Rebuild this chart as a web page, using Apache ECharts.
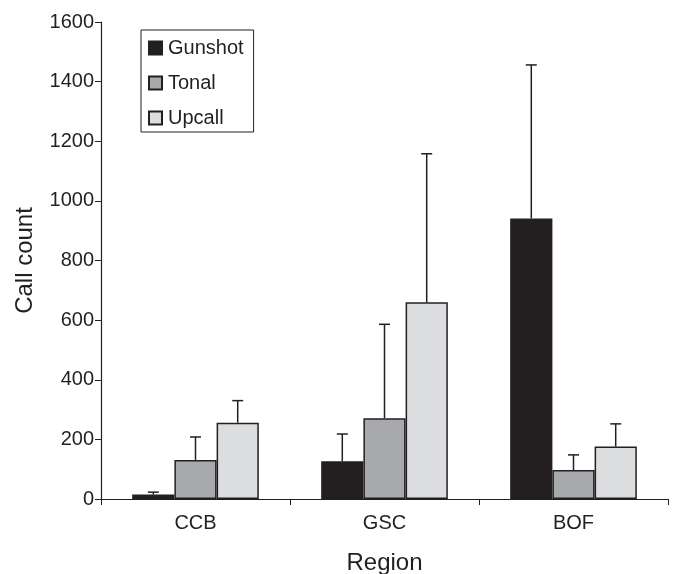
<!DOCTYPE html>
<html><head><meta charset="utf-8">
<script src="https://cdn.jsdelivr.net/npm/echarts@6/dist/echarts.min.js"></script>
<style>html,body{margin:0;padding:0;background:#fff}#c{width:675px;height:574px}</style>
</head><body><div id="c"></div>
<script>
const categories = ['CCB', 'GSC', 'BOF'];
const seriesNames = ['Gunshot', 'Tonal', 'Upcall'];
const gunshot = [15, 127, 941];
const tonal = [131, 271, 97];
const upcall = [256, 660, 176];
const gunshotErr = [23, 218, 1456];
const tonalErr = [208, 586, 148];
const upcallErr = [330, 1158, 252];
const yTicks = [0, 200, 400, 600, 800, 1000, 1200, 1400, 1600];

const colors = ['#231f20', '#a7a9ac', '#dcdddf'];
const values = [gunshot, tonal, upcall];
const errs = [gunshotErr, tonalErr, upcallErr];
const ink = '#231f20';
const font = 'Liberation Sans, Arial, sans-serif';
const gapRatio = 0.33;

const chart = echarts.init(document.getElementById('c'));
const series = [];
seriesNames.forEach((n, i) => {
  series.push({
    name: n, type: 'bar', data: values[i], barGap: 0, barCategoryGap: '33%',
    itemStyle: { color: colors[i], borderColor: ink, borderWidth: 1.5 },
    z: 2
  });
});
seriesNames.forEach((n, i) => {
  series.push({
    type: 'custom', name: n + ' err', z: 1,
    data: categories.map((c, j) => [j, values[i][j], errs[i][j]]),
    renderItem: function (params, api) {
      const x = api.value(0);
      const lo = api.coord([x, api.value(1)]);
      const hi = api.coord([x, api.value(2)]);
      const cw = api.size([1, 0])[0];
      const bw = cw * (1 - gapRatio) / 3;
      const cx = lo[0] + (i - 1) * bw;
      const cap = 5.5;
      return {
        type: 'group',
        children: [
          { type: 'line', shape: { x1: cx, y1: lo[1], x2: cx, y2: hi[1] }, style: { stroke: ink, lineWidth: 1.5 } },
          { type: 'line', shape: { x1: cx - cap, y1: hi[1], x2: cx + cap, y2: hi[1] }, style: { stroke: ink, lineWidth: 1.5 } }
        ]
      };
    }
  });
});

chart.setOption({
  animation: false,
  grid: { left: 101, right: 7, top: 22, bottom: 75, containLabel: false, outerBoundsMode: 'none' },
  legend: {
    data: seriesNames, orient: 'vertical', left: 141, top: 30,
    icon: 'rect', itemWidth: 13, itemHeight: 13, itemGap: 15,
    padding: [8, 10, 4, 7], borderColor: ink, borderWidth: 1,
    textStyle: { fontFamily: font, fontSize: 20, color: ink, padding: [0, 0, 0, 1] },
    selectedMode: false
  },
  xAxis: {
    type: 'category', data: categories,
    name: 'Region', nameLocation: 'middle', nameGap: 52,
    nameTextStyle: { fontFamily: font, fontSize: 24, color: ink },
    axisLine: { lineStyle: { color: ink, width: 1.2 } },
    axisTick: { show: true, alignWithLabel: false, length: 6, lineStyle: { color: ink } },
    axisLabel: { fontFamily: font, fontSize: 20, color: ink, margin: 14 }
  },
  yAxis: {
    type: 'value', min: yTicks[0], max: yTicks[yTicks.length - 1], interval: 200,
    name: 'Call count', nameLocation: 'middle', nameGap: 64, nameRotate: 90,
    nameTextStyle: { fontFamily: font, fontSize: 24, color: ink },
    splitLine: { show: false },
    axisLine: { show: true, lineStyle: { color: ink, width: 1.2 } },
    axisTick: { show: true, length: 6, lineStyle: { color: ink } },
    axisLabel: { fontFamily: font, fontSize: 20, color: ink, margin: 7, formatter: v => String(v) }
  },
  series: series
});
</script></body></html>
